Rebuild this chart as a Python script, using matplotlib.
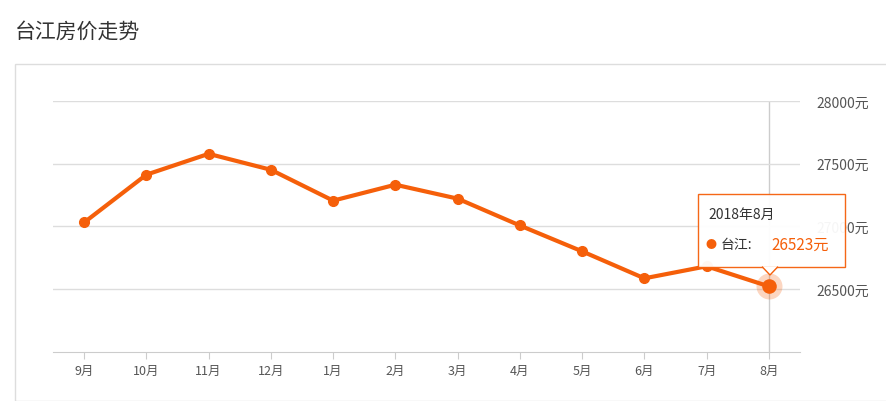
import matplotlib.pyplot as plt
from matplotlib.patches import Rectangle, FancyBboxPatch, Polygon

plt.rcParams['font.family'] = ['Noto Sans CJK SC', 'DejaVu Sans']

months = ["9月", "10月", "11月", "12月", "1月", "2月", "3月", "4月", "5月", "6月", "7月", "8月"]
prices = [27032, 27413, 27579, 27452, 27206, 27333, 27222, 27008, 26802, 26587, 26683, 26523]
yticks = [26500, 27000, 27500, 28000]
orange = "#f55f0a"

W, H = 886, 402
fig = plt.figure(figsize=(W / 100, H / 100), dpi=100)
fig.text(15 / W, 1 - 32 / H, "台江房价走势", fontsize=15, color="#333333", va="center")
# outer frame
fig.patches.append(Rectangle((15 / W, 0), 1, 1 - 65 / H, transform=fig.transFigure,
                             fill=False, edgecolor="#dddddd", lw=1))

ax = fig.add_axes([53 / W, 1 - 353 / H, (800 - 53) / W, (353 - 102) / H])
x = list(range(len(months)))
ax.plot(x, prices, color=orange, lw=3, marker="o", ms=7, zorder=3)
ax.scatter([x[-1]], [prices[-1]], s=350, color=orange, alpha=0.25, zorder=2, lw=0)
ax.scatter([x[-1]], [prices[-1]], s=110, color=orange, zorder=4, lw=0)
ax.axvline(x[-1], color="#cccccc", lw=1, zorder=1)
ax.set_xlim(-0.5, len(months) - 0.5)
ax.set_ylim(26000, 28000)
ax.set_yticks(yticks)
ax.set_yticklabels([f"{v}元" for v in yticks])
ax.yaxis.tick_right()
ax.set_xticks(x)
ax.set_xticklabels(months)
ax.tick_params(axis="y", length=0, labelsize=10, labelcolor="#555555", pad=12)
ax.tick_params(axis="x", length=5, color="#cccccc", labelsize=9, labelcolor="#555555")
ax.grid(axis="y", color="#dddddd", lw=1)
for s in ["top", "left", "right"]:
    ax.spines[s].set_visible(False)
ax.spines["bottom"].set_color("#cccccc")

# tooltip
x0, y0, x1, y1 = 698 / W, 1 - 268 / H, 845 / W, 1 - 195 / H
fig.patches.append(FancyBboxPatch((x0, y0), x1 - x0, y1 - y0, boxstyle="square,pad=0",
                                  transform=fig.transFigure, facecolor="white",
                                  edgecolor=orange, lw=1, alpha=0.95, zorder=5))
fig.patches.append(Polygon([(762 / W, y0 + 0.001), (770 / W, 1 - 276 / H), (778 / W, y0 + 0.001)],
                           closed=False, transform=fig.transFigure, facecolor="white",
                           edgecolor=orange, lw=1, zorder=6))
fig.text(708 / W, 1 - 215 / H, "2018年8月", fontsize=10, color="#333333", va="center", zorder=7)
fig.text(706 / W, 1 - 245 / H, "●", fontsize=8, color=orange, va="center", zorder=7)
fig.text(721 / W, 1 - 245 / H, "台江:", fontsize=10, color="#333333", va="center", zorder=7)
fig.text(771 / W, 1 - 245 / H, f"{prices[-1]}元", fontsize=11, color=orange, va="center", zorder=7)

fig.savefig("out.png", dpi=100)
